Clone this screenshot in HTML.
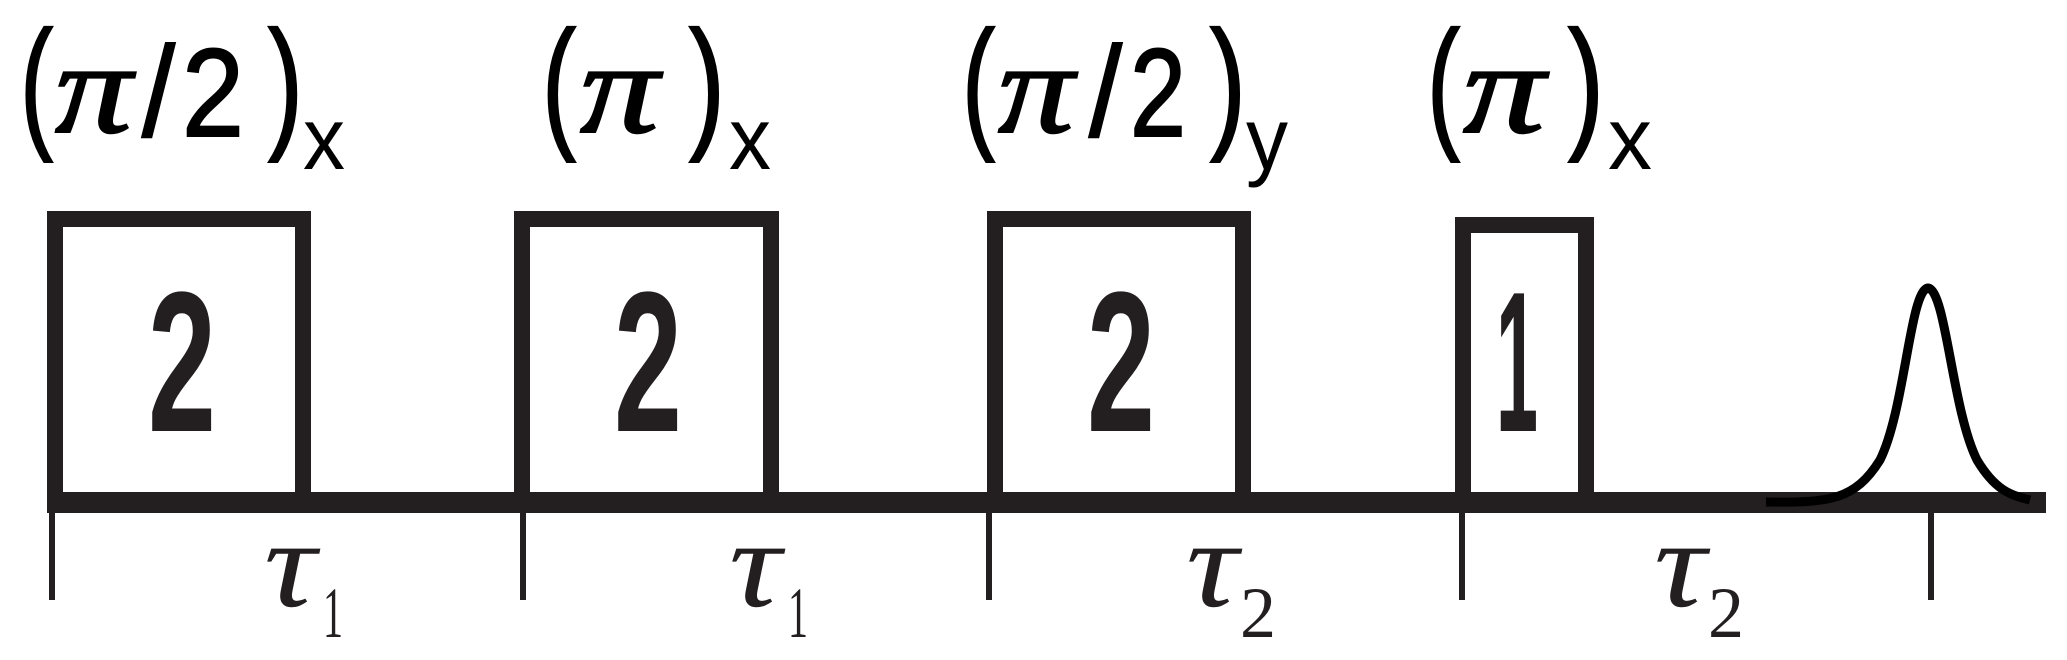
<!DOCTYPE html>
<html><head><meta charset="utf-8"><style>html,body{margin:0;padding:0;background:#fff}svg{display:block}</style></head>
<body>
<svg width="2067" height="660" viewBox="0 0 2067 660" xmlns="http://www.w3.org/2000/svg">
<g fill="#231f20">
  <rect x="47" y="492" width="1999" height="21"/>
  <path d="M47 492V211H311V492H295V227H63V492Z"/>
  <path d="M514 492V211H779V492H763V227H530V492Z"/>
  <path d="M987 492V211H1251V492H1235V227H1003V492Z"/>
  <path d="M1455 492V217H1594V492H1578V233H1471V492Z"/>
  <rect x="49" y="510" width="6" height="90"/>
  <rect x="520" y="510" width="6" height="90"/>
  <rect x="986" y="510" width="6" height="90"/>
  <rect x="1459" y="510" width="6" height="90"/>
  <rect x="1928" y="510" width="6" height="90"/>
</g>
<path d="M1766 502 C1830 503 1855 500 1880 460 C1905 410 1910 290 1928 288 C1946 290 1952 410 1977 460 C1995 490 2010 495 2030 500" fill="none" stroke="#000" stroke-width="9"/>
<g fill="#231f20" font-family="Liberation Sans, sans-serif" font-weight="bold">
  <text x="148" y="431" font-size="200" textLength="68" lengthAdjust="spacingAndGlyphs">2</text>
  <text x="614" y="431" font-size="200" textLength="68" lengthAdjust="spacingAndGlyphs">2</text>
  <text x="1087" y="431" font-size="200" textLength="68" lengthAdjust="spacingAndGlyphs">2</text>
  <text x="1496" y="431" font-size="200" textLength="42" lengthAdjust="spacingAndGlyphs">1</text>
</g>
<g fill="#000" stroke="#000" stroke-width="2">
  <text x="20" y="132" font-family="Liberation Sans, sans-serif" font-size="145" textLength="33" lengthAdjust="spacingAndGlyphs">(</text>
  <text x="55" y="132" font-family="Liberation Serif, serif" font-style="italic" font-size="130" textLength="77" lengthAdjust="spacingAndGlyphs">π</text>
  <text x="142" y="136" font-family="Liberation Sans, sans-serif" font-size="128" textLength="33" lengthAdjust="spacingAndGlyphs">/</text>
  <text x="182" y="136" font-family="Liberation Sans, sans-serif" font-size="125" textLength="62" lengthAdjust="spacingAndGlyphs">2</text>
  <text x="268" y="132" font-family="Liberation Sans, sans-serif" font-size="145" textLength="35" lengthAdjust="spacingAndGlyphs">)</text>
  <text x="303" y="169" font-family="Liberation Sans, sans-serif" font-size="88" textLength="42" lengthAdjust="spacingAndGlyphs" stroke-width="0">x</text>
  <text x="542" y="132" font-family="Liberation Sans, sans-serif" font-size="145" textLength="34" lengthAdjust="spacingAndGlyphs">(</text>
  <text x="580" y="132" font-family="Liberation Serif, serif" font-style="italic" font-size="130" textLength="79" lengthAdjust="spacingAndGlyphs">π</text>
  <text x="689" y="132" font-family="Liberation Sans, sans-serif" font-size="145" textLength="36" lengthAdjust="spacingAndGlyphs">)</text>
  <text x="729" y="169" font-family="Liberation Sans, sans-serif" font-size="88" textLength="42" lengthAdjust="spacingAndGlyphs" stroke-width="0">x</text>
  <text x="962" y="132" font-family="Liberation Sans, sans-serif" font-size="145" textLength="33" lengthAdjust="spacingAndGlyphs">(</text>
  <text x="998" y="132" font-family="Liberation Serif, serif" font-style="italic" font-size="130" textLength="76" lengthAdjust="spacingAndGlyphs">π</text>
  <text x="1089" y="136" font-family="Liberation Sans, sans-serif" font-size="128" textLength="33" lengthAdjust="spacingAndGlyphs">/</text>
  <text x="1130" y="136" font-family="Liberation Sans, sans-serif" font-size="125" textLength="56" lengthAdjust="spacingAndGlyphs">2</text>
  <text x="1210" y="132" font-family="Liberation Sans, sans-serif" font-size="145" textLength="36" lengthAdjust="spacingAndGlyphs">)</text>
  <text x="1246" y="169" font-family="Liberation Sans, sans-serif" font-size="88" textLength="42" lengthAdjust="spacingAndGlyphs" stroke-width="0">y</text>
  <text x="1427" y="132" font-family="Liberation Sans, sans-serif" font-size="145" textLength="33" lengthAdjust="spacingAndGlyphs">(</text>
  <text x="1463" y="132" font-family="Liberation Serif, serif" font-style="italic" font-size="130" textLength="82" lengthAdjust="spacingAndGlyphs">π</text>
  <text x="1568" y="132" font-family="Liberation Sans, sans-serif" font-size="145" textLength="36" lengthAdjust="spacingAndGlyphs">)</text>
  <text x="1608" y="169" font-family="Liberation Sans, sans-serif" font-size="88" textLength="44" lengthAdjust="spacingAndGlyphs" stroke-width="0">x</text>
</g>
<g fill="#231f20" font-family="Liberation Serif, serif">
  <text x="264" y="606" font-size="125" font-style="italic" textLength="52" lengthAdjust="spacingAndGlyphs">τ</text>
  <text x="323" y="637" font-size="72" textLength="20" lengthAdjust="spacingAndGlyphs">1</text>
  <text x="729" y="606" font-size="125" font-style="italic" textLength="52" lengthAdjust="spacingAndGlyphs">τ</text>
  <text x="788" y="637" font-size="72" textLength="20" lengthAdjust="spacingAndGlyphs">1</text>
  <text x="1186" y="606" font-size="125" font-style="italic" textLength="52" lengthAdjust="spacingAndGlyphs">τ</text>
  <text x="1240" y="637" font-size="72" textLength="36" lengthAdjust="spacingAndGlyphs">2</text>
  <text x="1654" y="606" font-size="125" font-style="italic" textLength="52" lengthAdjust="spacingAndGlyphs">τ</text>
  <text x="1708" y="637" font-size="72" textLength="36" lengthAdjust="spacingAndGlyphs">2</text>
</g>
</svg>
</body></html>
